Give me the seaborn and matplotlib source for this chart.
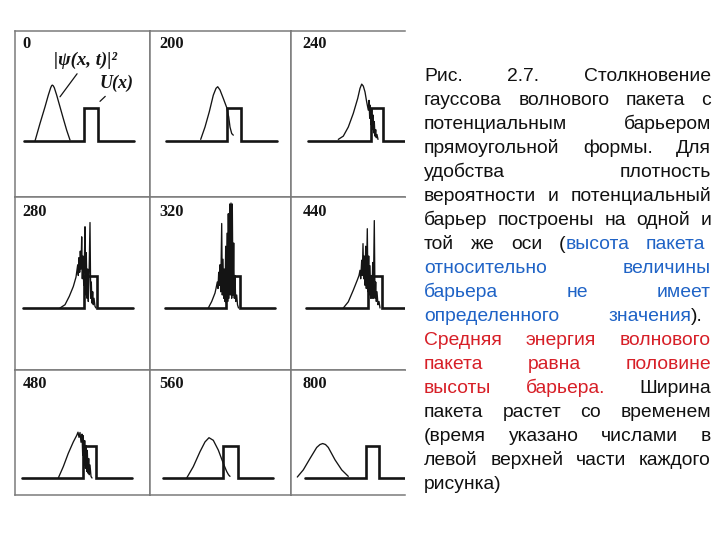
import matplotlib
matplotlib.use("Agg")
import matplotlib.pyplot as plt
import numpy as np
import pandas as pd
import seaborn as sns

sns.set_theme(style="white")
plt.rcParams['font.family'] = ['Liberation Sans', 'DejaVu Sans']

# ---------------- data ----------------
times = ["0", "200", "240", "280", "320", "440", "480", "560", "800"]
base_start = [9, 16, 17, 8, 15, 15, 7, 13, 14]
base_end = [119, 127, 130, 118, 125, 130, 117, 123, 130]
barrier_left = [69, 77, 80, 69, 76, 77, 68, 73, 75]
barrier_right = [83, 91, 92, 82, 90, 91, 81, 88, 88]
barrier_height = 1.0

# |psi|^2 curves: x position in the cell, y in units of barrier height
packet_x_0 = [20, 25, 30, 33.3, 35.7, 36.6, 37.3, 38.2, 39.3, 41.7, 45, 48.3, 51.7, 55]
packet_y_0 = [0.0, 0.54, 1.05, 1.41, 1.64, 1.70, 1.72, 1.70, 1.64, 1.41, 1.05, 0.69, 0.33, 0.03]

packet_x_200 = [50.7, 55, 59.3, 63.3, 66, 67.7, 70, 73.3, 76.7, 78.7, 80, 81.7, 83.3]
packet_y_200 = [0.05, 0.43, 0.9, 1.41, 1.62, 1.67, 1.57, 1.31, 1.03, 0.74, 0.43, 0.23, 0.18]

packet_x_240 = [47.3, 52.3, 57.3, 62.3, 66.7, 69, 70.7, 72.3, 74, 75.7, 77.3, 78, 78.7, 79.3,
                80, 80.7, 81.3, 82, 82.7, 83.3, 84, 84.7, 85.3, 86, 87]
packet_y_240 = [0.05, 0.15, 0.43, 0.85, 1.31, 1.62, 1.75, 1.69, 1.51, 1.2, 0.95, 1.25, 0.7, 1.1,
                0.5, 1.0, 0.35, 0.8, 0.25, 0.6, 0.15, 0.35, 0.1, 0.2, 0.05]

packet_x_280 = [45, 50, 54.3, 58.3, 61, 62.7, 63.3, 64, 64.7, 65.3, 66, 66.7, 67.3, 68, 68.7,
                69.3, 70, 70.7, 71.3, 72, 72.7, 73.3, 74, 75, 75.7, 76.3, 77, 77.7, 78.3, 79, 80, 81]
packet_y_280 = [0.0, 0.1, 0.36, 0.66, 0.95, 1.33, 1.0, 1.55, 1.1, 1.75, 1.2, 2.19, 0.9, 1.6, 0.7,
                1.3, 2.5, 0.4, 1.7, 0.3, 1.2, 0.2, 0.9, 2.63, 0.3, 0.8, 0.15, 0.5, 0.1, 0.3, 0.05, 0.0]

packet_x_320 = [58.3, 61.7, 65, 66, 67.3, 68, 68.7, 69.3, 70, 70.7, 71.7, 72.3, 73, 73.7, 74.3,
                75, 75.7, 76.3, 77, 77.7, 78.3, 79, 79.7, 80.3, 81, 81.7, 82.3, 83, 83.7, 84.3,
                85, 85.7, 86.7, 87.5, 88.5]
packet_y_320 = [0.0, 0.2, 0.46, 0.6, 0.8, 0.6, 1.1, 0.7, 1.33, 0.5, 2.6, 0.4, 1.5, 0.3, 1.2,
                0.2, 1.9, 0.15, 2.3, 0.2, 2.9, 0.3, 3.2, 0.4, 3.23, 0.3, 3.2, 0.4, 2.0, 0.3,
                1.0, 0.2, 0.4, 0.1, 0.0]

packet_x_440 = [52.3, 57.3, 62.3, 66.3, 68, 69, 69.7, 70.7, 71.3, 72, 72.7, 73.3, 74, 74.7, 75.3,
                76.3, 77, 77.7, 78.3, 79, 79.7, 80.3, 81, 81.7, 82.3, 83.3, 84, 84.7, 85.3, 86,
                87, 88, 89]
packet_y_440 = [0.0, 0.19, 0.55, 0.86, 1.0, 1.16, 0.9, 1.47, 1.0, 1.98, 0.9, 1.6, 0.7, 1.9, 0.6,
                2.44, 0.5, 1.6, 0.4, 1.3, 0.3, 1.0, 0.3, 1.4, 0.3, 2.69, 0.3, 0.8, 0.2, 0.5,
                0.1, 0.2, 0.0]

packet_x_480 = [43.3, 48.3, 53.3, 58.3, 61.7, 63, 64, 65, 66, 67, 67.7, 68.3, 69, 69.7, 70.3,
                71, 71.7, 72.3, 73, 73.7, 74.3, 75, 76, 77]
packet_y_480 = [0.0, 0.35, 0.76, 1.11, 1.31, 1.41, 1.25, 1.4, 1.1, 1.35, 0.7, 1.3, 0.4, 1.15, 0.3,
                1.0, 0.2, 0.85, 0.15, 0.6, 0.1, 0.4, 0.05, 0.0]

packet_x_560 = [36.7, 43.3, 50, 55, 59, 63.3, 68.3, 73.3, 76.7, 78.5, 80]
packet_y_560 = [0.0, 0.35, 0.81, 1.11, 1.24, 1.16, 0.86, 0.45, 0.2, 0.1, 0.05]

packet_x_800 = [6.3, 12.3, 19, 25.7, 29, 31.7, 34.5, 37.3, 44, 50.7, 57.3]
packet_y_800 = [0.03, 0.25, 0.6, 0.94, 1.03, 1.06, 1.03, 0.94, 0.56, 0.25, 0.05]

packets_x = [packet_x_0, packet_x_200, packet_x_240, packet_x_280, packet_x_320,
             packet_x_440, packet_x_480, packet_x_560, packet_x_800]
packets_y = [packet_y_0, packet_y_200, packet_y_240, packet_y_280, packet_y_320,
             packet_y_440, packet_y_480, packet_y_560, packet_y_800]

BLACK = '#111111'
BLUE = '#1f63c6'
RED = '#d71f27'
caption_lines = [
    [[("Рис.", BLACK)], [("2.7.", BLACK)], [("Столкновение", BLACK)]],
    [[("гауссова", BLACK)], [("волнового", BLACK)], [("пакета", BLACK)], [("с", BLACK)]],
    [[("потенциальным", BLACK)], [("барьером", BLACK)]],
    [[("прямоугольной", BLACK)], [("формы.", BLACK)], [("Для", BLACK)]],
    [[("удобства", BLACK)], [("плотность", BLACK)]],
    [[("вероятности", BLACK)], [("и", BLACK)], [("потенциальный", BLACK)]],
    [[("барьер", BLACK)], [("построены", BLACK)], [("на", BLACK)], [("одной", BLACK)], [("и", BLACK)]],
    [[("той", BLACK)], [("же", BLACK)], [("оси", BLACK)], [("(", BLACK), ("высота", BLUE)], [("пакета", BLUE)]],
    [[("относительно", BLUE)], [("величины", BLUE)]],
    [[("барьера", BLUE)], [("не", BLUE)], [("имеет", BLUE)]],
    [[("определенного", BLUE)], [("значения", BLUE), (").", BLACK)]],
    [[("Средняя", RED)], [("энергия", RED)], [("волнового", RED)]],
    [[("пакета", RED)], [("равна", RED)], [("половине", RED)]],
    [[("высоты", RED)], [("барьера.", RED)], [("Ширина", BLACK)]],
    [[("пакета", BLACK)], [("растет", BLACK)], [("со", BLACK)], [("временем", BLACK)]],
    [[("(время", BLACK)], [("указано", BLACK)], [("числами", BLACK)], [("в", BLACK)]],
    [[("левой", BLACK)], [("верхней", BLACK)], [("части", BLACK)], [("каждого", BLACK)]],
    [[("рисунка)", BLACK)]],
]

# ---------------- layout ----------------
W, H = 720, 540
fig = plt.figure(figsize=(W / 100, H / 100), dpi=100)
fig.patch.set_facecolor('white')

col_edges = [15, 150, 291, 405]
row_edges = [31, 197, 370, 495]
baseline_px = [141, 308, 478]
unit_px = 32.5
label_dx = [7.5, 9.5, 11.5]
label_dy = [16.5, 19, 17.5]
GRID = '#7a7a7a'
INK = '#141414'

for i, t in enumerate(times):
    r, c = divmod(i, 3)
    x0, x1 = col_edges[c], col_edges[c + 1]
    y0, y1 = row_edges[r], row_edges[r + 1]
    ax = fig.add_axes([x0 / W, 1 - y1 / H, (x1 - x0) / W, (y1 - y0) / H])
    ax.set_xlim(0, x1 - x0)
    ax.set_ylim(-(y1 - baseline_px[r]) / unit_px, (baseline_px[r] - y0) / unit_px)
    ax.set_xticks([]); ax.set_yticks([])
    ax.set_facecolor('white')
    for side, sp in ax.spines.items():
        sp.set_color(GRID)
        sp.set_linewidth(1.1)
    if c == 2:
        ax.spines['right'].set_visible(False)

    prof = pd.DataFrame({
        'x': [base_start[i], barrier_left[i], barrier_left[i], barrier_right[i], barrier_right[i], base_end[i]],
        'y': [0, 0, barrier_height, barrier_height, 0, 0]})
    sns.lineplot(data=prof, x='x', y='y', ax=ax, sort=False, estimator=None,
                 color=INK, linewidth=1.9, solid_joinstyle='miter')
    pk = pd.DataFrame({'x': packets_x[i], 'y': packets_y[i]})
    sns.lineplot(data=pk, x='x', y='y', ax=ax, sort=False, estimator=None,
                 color=INK, linewidth=0.95)
    ax.set_xlabel(''); ax.set_ylabel('')

    fig.text((x0 + label_dx[c]) / W, 1 - (y0 + label_dy[r]) / H, t,
             family='Liberation Serif', fontweight='bold', fontsize=11.8,
             color=INK, ha='left', va='baseline')

    if i == 0:
        ax.annotate("|ψ(x, t)|²", xy=(45, 1.36), xytext=(71, 2.47),
                    family='Liberation Serif', fontstyle='italic', fontweight='bold',
                    fontsize=13.5, color=INK, ha='center', va='center',
                    arrowprops=dict(arrowstyle='-', color=INK, lw=0.9,
                                    relpos=(0.41, 0.0), shrinkA=1, shrinkB=0))
        ax.annotate("U(x)", xy=(85, 1.22), xytext=(101.5, 1.77),
                    family='Liberation Serif', fontstyle='italic', fontweight='bold',
                    fontsize=13, color=INK, ha='center', va='center',
                    arrowprops=dict(arrowstyle='-', color=INK, lw=0.9,
                                    relpos=(0.3, 0.0), shrinkA=1, shrinkB=0))

# ---------------- justified caption ----------------
FS = 13.9
text_left = 424
right_edges = [711] * len(caption_lines)
right_edges[7] = 705
right_edges[10] = 703
line0, line_step = 80.7, 24.0
renderer = fig.canvas.get_renderer()
for li, words in enumerate(caption_lines):
    y = 1 - (line0 + line_step * li) / H
    word_arts, widths = [], []
    for word in words:
        arts, wsum = [], 0.0
        for txt, col in word:
            tt = fig.text(0, y, txt, color=col, fontsize=FS, ha='left', va='baseline')
            bw = tt.get_window_extent(renderer).width
            arts.append((tt, bw)); wsum += bw
        word_arts.append(arts); widths.append(wsum)
    if len(words) == 1 or li == len(caption_lines) - 1:
        gap = 5.0
    else:
        gap = (right_edges[li] - text_left - sum(widths)) / (len(words) - 1)
    x = text_left
    for arts, wsum in zip(word_arts, widths):
        xx = x
        for tt, bw in arts:
            tt.set_x(xx / W)
            xx += bw
        x += wsum + gap

fig.savefig("out.png", dpi=100, facecolor='white')
